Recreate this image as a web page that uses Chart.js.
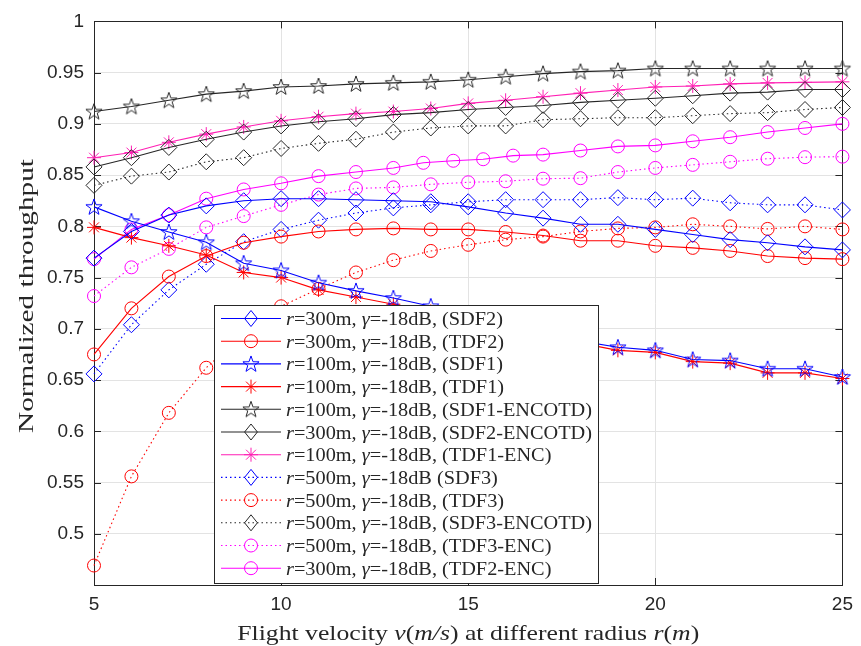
<!DOCTYPE html>
<html lang="en">
<head>
<meta charset="UTF-8">
<title>Normalized throughput</title>
<script src="https://cdn.jsdelivr.net/npm/chart.js"></script>
<style>
  html, body { margin: 0; padding: 0; background: #fff; }
</style>
</head>
<body>
<canvas id="chart" width="861" height="646"></canvas>
<script>
// flight velocity (m/s)
var velocity = [5, 6, 7, 8, 9, 10, 11, 12, 13, 14, 15, 16, 17, 18, 19, 20, 21, 22, 23, 24, 25];
var velocityTdf2Enc = [5, 6, 7, 8, 9, 10, 11, 12, 13, 13.8, 14.6, 15.4, 16.2, 17, 18, 19, 20, 21, 22, 23, 24, 25];

// normalized throughput per scheme
var sdf2 = [0.769, 0.795, 0.811, 0.820, 0.825, 0.827, 0.827, 0.826, 0.825, 0.824, 0.819, 0.813, 0.808, 0.802, 0.802, 0.797, 0.792, 0.787, 0.784, 0.780, 0.777];
var tdf2 = [0.675, 0.720, 0.751, 0.771, 0.784, 0.790, 0.795, 0.797, 0.798, 0.797, 0.797, 0.7945, 0.791, 0.786, 0.786, 0.781, 0.779, 0.776, 0.771, 0.769, 0.768];
var sdf1 = [0.819, 0.805, 0.7945, 0.7845, 0.764, 0.757, 0.745, 0.737, 0.730, 0.722, 0.714, 0.706, 0.697, 0.688, 0.682, 0.679, 0.670, 0.669, 0.661, 0.661, 0.653];
var tdf1 = [0.799, 0.789, 0.781, 0.772, 0.755, 0.750, 0.738, 0.731, 0.724, 0.717, 0.710, 0.702, 0.694, 0.686, 0.679, 0.677, 0.668, 0.6665, 0.657, 0.657, 0.6515];
var sdf1Encotd = [0.912, 0.917, 0.923, 0.929, 0.932, 0.936, 0.937, 0.939, 0.940, 0.941, 0.943, 0.946, 0.949, 0.951, 0.952, 0.954, 0.954, 0.954, 0.954, 0.954, 0.954];
var sdf2Encotd = [0.858, 0.867, 0.877, 0.885, 0.892, 0.898, 0.902, 0.905, 0.909, 0.911, 0.914, 0.916, 0.918, 0.921, 0.923, 0.925, 0.9275, 0.930, 0.931, 0.9335, 0.9335];
var tdf1Enc = [0.867, 0.872, 0.882, 0.890, 0.897, 0.903, 0.907, 0.910, 0.912, 0.915, 0.920, 0.923, 0.9265, 0.930, 0.933, 0.936, 0.937, 0.939, 0.940, 0.9405, 0.941];
var sdf3 = [0.656, 0.704, 0.738, 0.763, 0.785, 0.797, 0.806, 0.813, 0.818, 0.821, 0.824, 0.826, 0.826, 0.826, 0.828, 0.826, 0.8275, 0.823, 0.821, 0.821, 0.816];
var tdf3 = [0.469, 0.556, 0.618, 0.662, 0.695, 0.722, 0.739, 0.755, 0.767, 0.776, 0.782, 0.787, 0.790, 0.795, 0.798, 0.799, 0.802, 0.800, 0.7975, 0.800, 0.797];
var sdf3Encotd = [0.840, 0.849, 0.853, 0.863, 0.867, 0.876, 0.881, 0.885, 0.892, 0.896, 0.898, 0.898, 0.904, 0.905, 0.906, 0.906, 0.908, 0.910, 0.911, 0.914, 0.916];
var tdf3Enc = [0.732, 0.760, 0.778, 0.799, 0.810, 0.821, 0.831, 0.837, 0.838, 0.841, 0.843, 0.844, 0.8465, 0.847, 0.853, 0.857, 0.860, 0.863, 0.866, 0.8675, 0.868];
var tdf2Enc = [0.768, 0.797, 0.811, 0.827, 0.836, 0.842, 0.849, 0.853, 0.857, 0.862, 0.864, 0.8655, 0.869, 0.870, 0.874, 0.878, 0.879, 0.883, 0.887, 0.892, 0.896, 0.900];

// legend text pieces
var legendRadius = ['300', '300', '100', '100', '100', '300', '100', '500', '500', '500', '500', '300'];
var legendTail = [', (SDF2)', ', (TDF2)', ', (SDF1)', ', (TDF1)', ', (SDF1-ENCOTD)', ', (SDF2-ENCOTD)',
                  ', (TDF1-ENC)', ' (SDF3)', ', (TDF3)', ', (SDF3-ENCOTD)', ', (TDF3-ENC)', ', (TDF2-ENC)'];

var BLUE = '#0000ff', RED = '#ff0000', BLACK = '#262626', MAG = '#ff00ff', PINK = '#ff1fb4';
var SERIF = '"Liberation Serif", "Times New Roman", serif';
var SANS = '"Liberation Sans", Arial, sans-serif';

// five-point star marker (matlab 'p')
function pentagram(color) {
  var c = document.createElement('canvas');
  c.width = 20; c.height = 20;
  var g = c.getContext('2d');
  g.strokeStyle = color; g.lineWidth = 1;
  g.beginPath();
  for (var k = 0; k < 10; k++) {
    var r = (k % 2 === 0) ? 8.5 : 3.4;
    var a = -Math.PI / 2 + k * Math.PI / 5;
    var px = 10 + r * Math.cos(a), py = 10.5 + r * Math.sin(a);
    if (k === 0) g.moveTo(px, py); else g.lineTo(px, py);
  }
  g.closePath(); g.stroke();
  return c;
}
var starBlue = pentagram(BLUE), starBlack = pentagram(BLACK);

function pts(xs, ys) {
  return ys.map(function (y, i) { return { x: xs[i], y: y }; });
}

function series(data, color, style, radius, dotted, xs) {
  return {
    data: pts(xs || velocity, data),
    borderColor: color,
    backgroundColor: 'rgba(0,0,0,0)',
    pointBackgroundColor: 'rgba(0,0,0,0)',
    pointBorderColor: color,
    pointStyle: style,
    pointRadius: radius,
    pointHoverRadius: radius,
    pointBorderWidth: 1,
    borderWidth: 1.1,
    borderDash: dotted ? [1.5, 3] : [],
    tension: 0,
    clip: false
  };
}

var datasets = [
  series(sdf2, BLUE, 'rectRot', 8, false),
  series(tdf2, RED, 'circle', 6.5, false),
  series(sdf1, BLUE, starBlue, 8, false),
  series(tdf1, RED, 'star', 7, false),
  series(sdf1Encotd, BLACK, starBlack, 8, false),
  series(sdf2Encotd, BLACK, 'rectRot', 8, false),
  series(tdf1Enc, PINK, 'star', 7, false),
  series(sdf3, BLUE, 'rectRot', 8, true),
  series(tdf3, RED, 'circle', 6.5, true),
  series(sdf3Encotd, BLACK, 'rectRot', 8, true),
  series(tdf3Enc, MAG, 'circle', 6.5, true),
  series(tdf2Enc, MAG, 'circle', 6.5, false, velocityTdf2Enc)
];

// text with italic pieces, horizontally stretched a little like the latex font
function richWidth(ctx, parts, size) {
  var w = 0;
  parts.forEach(function (p) {
    ctx.font = (p[1] ? 'italic ' : '') + size + 'px ' + SERIF;
    w += ctx.measureText(p[0]).width;
  });
  return w;
}
function drawRich(ctx, parts, x, y, size, sx) {
  ctx.save();
  ctx.translate(x, y);
  ctx.scale(sx, 1);
  ctx.textBaseline = 'alphabetic';
  ctx.textAlign = 'left';
  var cx = 0;
  parts.forEach(function (p) {
    ctx.font = (p[1] ? 'italic ' : '') + size + 'px ' + SERIF;
    ctx.fillText(p[0], cx, 0);
    cx += ctx.measureText(p[0]).width;
  });
  ctx.restore();
}

function drawMarker(ctx, ds, x, y) {
  var r = ds.pointRadius, s = ds.pointStyle;
  ctx.save();
  ctx.strokeStyle = ds.pointBorderColor;
  ctx.lineWidth = 1;
  ctx.setLineDash([]);
  if (typeof s !== 'string') {
    ctx.drawImage(s, x - s.width / 2, y - s.height / 2);
  } else {
    ctx.beginPath();
    if (s === 'circle') {
      ctx.arc(x, y, r, 0, Math.PI * 2);
    } else if (s === 'rectRot') {
      ctx.moveTo(x - r * 0.8, y); ctx.lineTo(x, y - r); ctx.lineTo(x + r * 0.8, y); ctx.lineTo(x, y + r); ctx.closePath();
    } else if (s === 'star') {
      for (var k = 0; k < 4; k++) {
        var a = k * Math.PI / 4;
        ctx.moveTo(x - r * Math.cos(a), y - r * Math.sin(a));
        ctx.lineTo(x + r * Math.cos(a), y + r * Math.sin(a));
      }
    }
    ctx.stroke();
  }
  ctx.restore();
}

var matlabLook = {
  id: 'matlabLook',
  beforeDatasetsDraw: function (chart) {
    var ctx = chart.ctx, a = chart.chartArea;
    var xs = chart.scales.x, ys = chart.scales.y;
    ctx.save();
    ctx.strokeStyle = BLACK;
    ctx.lineWidth = 1;
    ctx.strokeRect(Math.round(a.left) + 0.5, Math.round(a.top) + 0.5, Math.round(a.right - a.left), Math.round(a.bottom - a.top));
    ctx.beginPath();
    ys.ticks.forEach(function (t) {
      var py = Math.round(ys.getPixelForValue(t.value)) + 0.5;
      ctx.moveTo(a.left, py); ctx.lineTo(a.left + 7, py);
      ctx.moveTo(a.right, py); ctx.lineTo(a.right - 7, py);
    });
    xs.ticks.forEach(function (t) {
      var px = Math.round(xs.getPixelForValue(t.value)) + 0.5;
      ctx.moveTo(px, a.bottom); ctx.lineTo(px, a.bottom - 7);
      ctx.moveTo(px, a.top); ctx.lineTo(px, a.top + 7);
    });
    ctx.stroke();
    ctx.restore();
  },
  afterDraw: function (chart) {
    var ctx = chart.ctx, a = chart.chartArea;
    ctx.save();
    ctx.fillStyle = '#262626';

    // axis titles
    var xt = [['Flight velocity ', false], ['v', true], ['(', false], ['m/s', true], [') at different radius ', false], ['r', true], ['(', false], ['m', true], [')', false]];
    var xw = richWidth(ctx, xt, 22);
    drawRich(ctx, xt, (a.left + a.right) / 2 - 231, 640, 22, 462 / xw);

    var yt = [['Normalized throughput', false]];
    var yw = richWidth(ctx, yt, 22);
    ctx.save();
    ctx.translate(33, 296);
    ctx.rotate(-Math.PI / 2);
    drawRich(ctx, yt, -137, 0, 22, 274 / yw);
    ctx.restore();

    // legend box
    var bx = 214.5, by = 305.5, bw = 384, bh = 278;
    ctx.fillStyle = '#fff';
    ctx.fillRect(bx, by, bw, bh);
    ctx.strokeStyle = BLACK;
    ctx.lineWidth = 1;
    ctx.strokeRect(bx, by, bw, bh);

    var rows = chart.data.datasets;
    var widest = 0, parts = [];
    rows.forEach(function (ds, i) {
      var p = [['r', true], ['=' + legendRadius[i] + 'm, ', false], ['\u03b3', true], ['=-18dB' + legendTail[i], false]];
      parts.push(p);
      widest = Math.max(widest, richWidth(ctx, p, 19));
    });
    var sxL = 306 / widest;
    rows.forEach(function (ds, i) {
      var yy = 318.5 + i * 22.7;
      ctx.save();
      ctx.strokeStyle = ds.borderColor;
      ctx.lineWidth = 1.1;
      ctx.setLineDash(ds.borderDash);
      ctx.beginPath();
      ctx.moveTo(221, yy); ctx.lineTo(281, yy);
      ctx.stroke();
      ctx.restore();
      drawMarker(ctx, ds, 251, yy);
      ctx.fillStyle = '#262626';
      drawRich(ctx, parts[i], 286, yy + 6.5, 19, sxL);
    });
    ctx.restore();
  }
};

new Chart(document.getElementById('chart').getContext('2d'), {
  type: 'line',
  data: { datasets: datasets },
  options: {
    responsive: false,
    animation: false,
    events: [],
    layout: { padding: { left: 0, right: 10, top: 19, bottom: 0 } },
    plugins: { legend: { display: false }, tooltip: { enabled: false } },
    scales: {
      x: {
        type: 'linear',
        min: 5, max: 25,
        afterFit: function (s) { s.height = 61; },
        ticks: {
          stepSize: 5, padding: 8, color: '#262626',
          font: { family: SANS, size: 19 }
        },
        grid: { color: '#e3e3e3', drawTicks: false },
        border: { display: false }
      },
      y: {
        min: 0.45, max: 1,
        afterFit: function (s) { s.width = 94; },
        ticks: {
          stepSize: 0.05, padding: 10, color: '#262626',
          font: { family: SANS, size: 19 },
          callback: function (v) {
            var r = Math.round(v * 100) / 100;
            return r <= 0.45 ? '' : String(r);
          }
        },
        grid: { color: '#e3e3e3', drawTicks: false },
        border: { display: false }
      }
    }
  },
  plugins: [matlabLook]
});
</script>
</body>
</html>
